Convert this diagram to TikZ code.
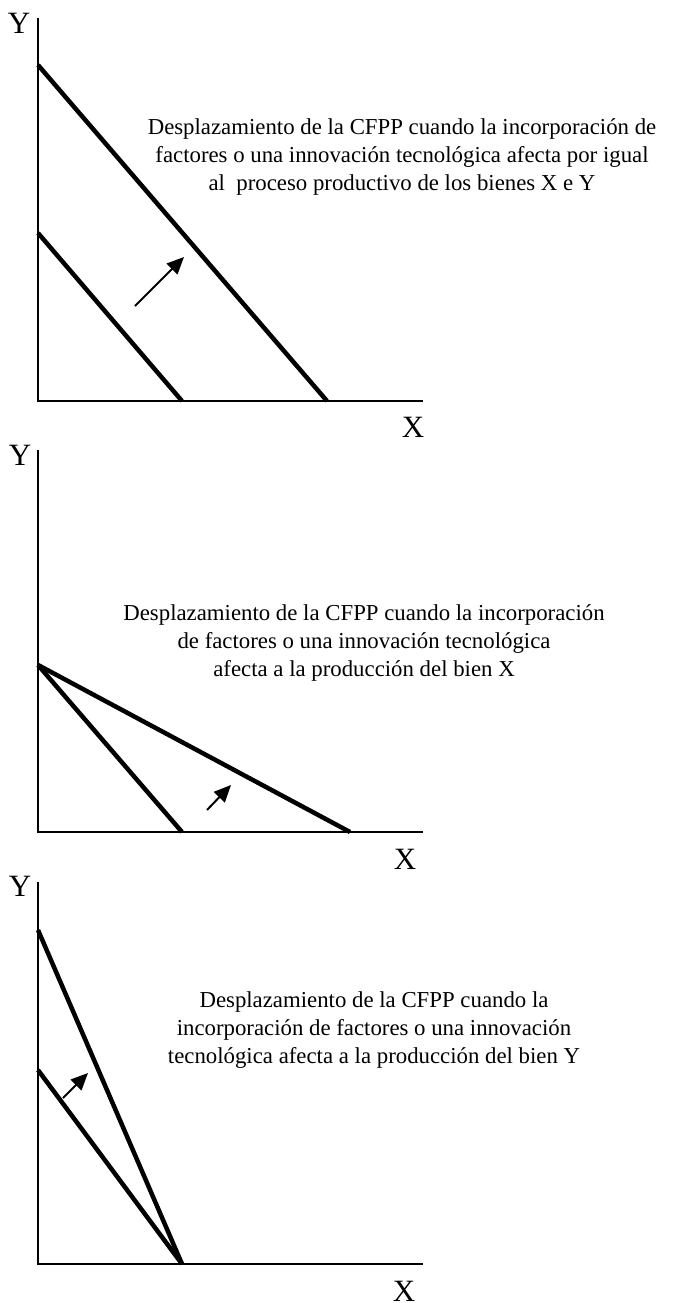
\documentclass[tikz,border=0pt]{standalone}
\usepackage{fontspec}
\setmainfont{Liberation Serif}
\usetikzlibrary{arrows.meta}
\begin{document}
\begin{tikzpicture}[x=1pt,y=-1pt,
  axis/.style={line width=2pt},
  curve/.style={line width=4.5pt},
  movearrow/.style={line width=2pt,-{Triangle[length=17pt,width=15pt]}},
  axlabel/.style={font=\fontsize{31}{33}\selectfont,inner sep=0pt},
  caption/.style={font=\fontsize{22.8}{28}\selectfont,align=center,inner sep=0pt}]
\useasboundingbox[fill=white] (0,0) rectangle (693,1303);
% ---------- Panel 1 ----------
\coordinate (t1) at (38,18);
\coordinate (o1) at (38,401);
\coordinate (e1) at (423,401);
\draw[axis] (t1) -- (o1) -- (e1);
\node[axlabel] (y1) at (19,23) {Y};
\node[axlabel] (x1) at (413,427) {X};
\coordinate (a1) at (38,65);
\coordinate (b1) at (327,401);
\coordinate (c1) at (38,233);
\coordinate (d1) at (182,401);
\draw[curve] (a1) -- (b1);
\draw[curve] (c1) -- (d1);
\coordinate (s1) at (135,306);
\coordinate (f1) at (184,257);
\draw[movearrow] (s1) -- (f1);
\node[caption] (txt1) at (402,157) {Desplazamiento de la CFPP cuando la incorporación de\\factores o una innovación tecnológica afecta por igual\\al\ \ proceso productivo de los bienes X e Y};
% ---------- Panel 2 ----------
\coordinate (t2) at (38,450);
\coordinate (o2) at (38,832);
\coordinate (e2) at (423,832);
\draw[axis] (t2) -- (o2) -- (e2);
\node[axlabel] (y2) at (20,455) {Y};
\node[axlabel] (x2) at (405,859) {X};
\coordinate (a2) at (38,665);
\coordinate (b2) at (350,832);
\coordinate (d2) at (182,832);
\draw[curve] (a2) -- (b2);
\draw[curve] (a2) -- (d2);
\coordinate (s2) at (207,810);
\coordinate (f2) at (231,785);
\draw[movearrow] (s2) -- (f2);
\node[caption] (txt2) at (364,643) {Desplazamiento de la CFPP cuando la incorporación\\de factores o una innovación tecnológica\\afecta a la producción del bien X};
% ---------- Panel 3 ----------
\coordinate (t3) at (38,882);
\coordinate (o3) at (38,1264);
\coordinate (e3) at (423,1264);
\draw[axis] (t3) -- (o3) -- (e3);
\node[axlabel] (y3) at (20,886) {Y};
\node[axlabel] (x3) at (404,1291) {X};
\coordinate (a3) at (38,930);
\coordinate (c3) at (38,1070);
\coordinate (d3) at (182,1264);
\draw[curve] (a3) -- (d3);
\draw[curve] (c3) -- (d3);
\coordinate (s3) at (63,1098);
\coordinate (f3) at (88,1073);
\draw[movearrow] (s3) -- (f3);
\node[caption] (txt3) at (374,1030) {Desplazamiento de la CFPP cuando la\\incorporación de factores o una innovación\\tecnológica afecta a la producción del bien Y};
\end{tikzpicture}
\end{document}
